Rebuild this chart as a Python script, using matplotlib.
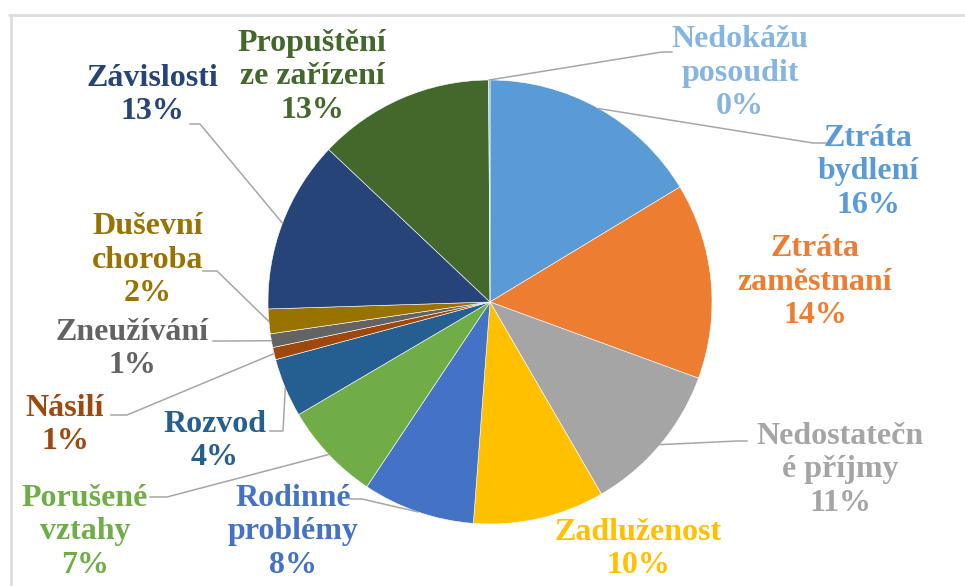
import numpy as np
import matplotlib
matplotlib.use("Agg")
import matplotlib.pyplot as plt

plt.rcParams["font.family"] = ["Liberation Serif", "DejaVu Serif"]

# ─────────────────────────────────────────────
# DATA (clockwise from 12 o'clock)
# ─────────────────────────────────────────────
categories = ["Ztráta\nbydlení", "Ztráta\nzaměstnaní", "Nedostatečn\né příjmy",
              "Zadluženost", "Rodinné\nproblémy", "Porušené\nvztahy", "Rozvod",
              "Násilí", "Zneužívání", "Duševní\nchoroba", "Závislosti",
              "Propuštění\nze zařízení", "Nedokážu\nposoudit"]
shares = [16.4, 14.3, 11.1, 9.6, 8.2, 7.2, 4.3, 0.9, 1.0, 1.8, 12.6, 12.9, 0.1]
colors = ["#5B9BD5", "#ED7D31", "#A5A5A5", "#FFC000", "#4472C4", "#70AD47",
          "#255E91", "#9E480E", "#636363", "#997300", "#264478", "#43682B",
          "#86B5E0"]

# label block centres (pixels) and leader-line elbows (pixels, None = no line)
label_pos = [(868, 172), (815, 282), (840, 470), (638, 549), (293, 532),
             (85, 532), (215, 441), (65, 425), (132, 349), (148, 260),
             (152, 95), (312, 77), (740, 73)]
elbows = [[(826, 143), (813, 143)], None, [(747, 441), (737, 441)], None,
          [(350, 499), (362, 499)], [(150, 497), (167, 497)],
          [(270, 431), (283, 431)], [(111, 415), (127, 415)],
          [(213, 341), (225, 341)], [(203, 271), (217, 271)],
          [(190, 124), (200, 124)], None, [(672, 52), (662, 52)]]

W, H = 965, 586
CX, CY, R = 490, 302, 222


def px(x, y):
    return (x - CX) / R, (CY - y) / R


fig = plt.figure(figsize=(W / 100, H / 100), dpi=100)
ax = fig.add_axes([0, 0, 1, 1])

wedges, _ = ax.pie(shares, colors=colors, startangle=90, counterclock=False,
                   radius=1, wedgeprops=dict(edgecolor="white", linewidth=0.4))
ax.set_xlim(px(0, 0)[0], px(W, 0)[0])
ax.set_ylim(px(0, H)[1], px(0, 0)[1])
ax.set_aspect("auto")
ax.axis("off")

# spreadsheet border lines in the screenshot
ax.plot([px(8, 0)[0], px(W, 0)[0]], [px(0, 14.5)[1]] * 2, color="#DDDDDD",
        lw=2, solid_capstyle="butt", clip_on=False)
ax.plot([px(11, 0)[0]] * 2, [px(0, 14.5)[1], px(0, H)[1]], color="#DDDDDD",
        lw=2, solid_capstyle="butt", clip_on=False)

total = sum(shares)
for w, cat, val, col, pos, elb in zip(wedges, categories, shares, colors,
                                      label_pos, elbows):
    pct = val / total * 100
    ax.text(*px(*pos), f"{cat}\n{pct:.0f}%", ha="center", va="center",
            color=col, fontsize=23, fontweight="bold", linespacing=1.2)
    if elb is not None:
        mid = np.deg2rad((w.theta1 + w.theta2) / 2)
        pts = [px(*p) for p in elb] + [(np.cos(mid), np.sin(mid))]
        xs, ys = zip(*pts)
        ax.plot(xs, ys, color="#A6A6A6", lw=1.1, zorder=3)

fig.savefig("out.png", dpi=100, facecolor="white")
